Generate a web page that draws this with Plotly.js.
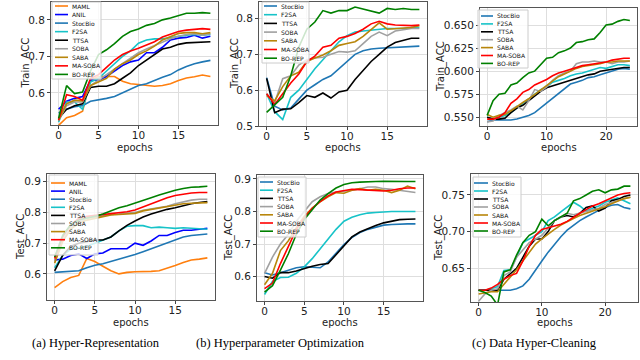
<!DOCTYPE html>
<html>
<head>
<meta charset="utf-8">
<script src="https://cdn.plot.ly/plotly-3.0.1.min.js"></script>
<style>
  html, body { margin: 0; padding: 0; background: #fff; }
  #chart { width: 640px; height: 360px; }
</style>
</head>
<body>
<div id="chart"></div>
<script>
const epochs20 = [0,1,2,3,4,5,6,7,8,9,10,11,12,13,14,15,16,17,18,19];
const epochs25 = [0,1,2,3,4,5,6,7,8,9,10,11,12,13,14,15,16,17,18,19,20,21,22,23,24];

const methodsHR = ['MAML','ANIL','StocBio','F2SA','TTSA','SOBA','SABA','MA-SOBA','BO-REP'];
const methodsBL = ['StocBio','F2SA','TTSA','SOBA','SABA','MA-SOBA','BO-REP'];

// (a) Hyper-Representation, train
const hrTrainMAML    = [0.511,0.532,0.538,0.55,0.636,0.645,0.645,0.645,0.632,0.625,0.623,0.621,0.618,0.62,0.625,0.634,0.641,0.644,0.649,0.645];
const hrTrainANIL    = [0.555,0.577,0.585,0.59,0.635,0.635,0.645,0.66,0.675,0.685,0.69,0.71,0.71,0.725,0.745,0.75,0.752,0.758,0.75,0.755];
const hrTrainStocBio = [0.545,0.555,0.562,0.565,0.577,0.58,0.585,0.59,0.6,0.608,0.62,0.625,0.635,0.643,0.65,0.663,0.672,0.68,0.685,0.689];
const hrTrainF2SA    = [0.52,0.575,0.575,0.555,0.63,0.64,0.66,0.68,0.7,0.715,0.736,0.745,0.748,0.748,0.752,0.755,0.758,0.76,0.758,0.76];
const hrTrainTTSA    = [0.53,0.555,0.565,0.57,0.615,0.618,0.618,0.625,0.64,0.655,0.675,0.69,0.705,0.72,0.725,0.733,0.737,0.738,0.74,0.74];
const hrTrainSOBA    = [0.525,0.565,0.575,0.575,0.62,0.635,0.65,0.665,0.68,0.695,0.71,0.72,0.73,0.74,0.748,0.755,0.76,0.762,0.758,0.762];
const hrTrainSABA    = [0.525,0.57,0.58,0.578,0.62,0.63,0.64,0.665,0.68,0.69,0.705,0.715,0.728,0.745,0.755,0.763,0.765,0.765,0.762,0.765];
const hrTrainMASOBA  = [0.525,0.595,0.59,0.58,0.64,0.65,0.67,0.69,0.705,0.715,0.722,0.73,0.74,0.753,0.76,0.768,0.772,0.775,0.776,0.774];
const hrTrainBOREP   = [0.53,0.62,0.598,0.602,0.66,0.705,0.718,0.735,0.755,0.768,0.775,0.785,0.79,0.8,0.805,0.812,0.818,0.818,0.82,0.818];

// (b) Hyperparameter Optimization, train
const hoTrainStocBio = [0.635,0.555,0.545,0.55,0.575,0.6,0.615,0.63,0.64,0.66,0.68,0.7,0.71,0.715,0.717,0.718,0.72,0.722,0.723,0.723];
const hoTrainF2SA    = [0.59,0.54,0.518,0.58,0.6,0.63,0.66,0.685,0.71,0.735,0.752,0.762,0.765,0.768,0.77,0.772,0.772,0.772,0.775,0.775];
const hoTrainTTSA    = [0.633,0.537,0.547,0.548,0.565,0.585,0.58,0.592,0.578,0.595,0.6,0.63,0.655,0.68,0.7,0.72,0.733,0.74,0.745,0.745];
const hoTrainSOBA    = [0.59,0.565,0.632,0.64,0.67,0.685,0.69,0.692,0.7,0.708,0.706,0.71,0.73,0.75,0.762,0.752,0.765,0.768,0.772,0.772];
const hoTrainSABA    = [0.585,0.57,0.61,0.64,0.65,0.68,0.69,0.698,0.71,0.725,0.73,0.735,0.75,0.77,0.788,0.77,0.772,0.775,0.775,0.78];
const hoTrainMASOBA  = [0.59,0.56,0.59,0.62,0.645,0.68,0.695,0.72,0.725,0.745,0.75,0.758,0.77,0.785,0.792,0.785,0.782,0.78,0.78,0.782];
const hoTrainBOREP   = [0.538,0.56,0.58,0.64,0.72,0.77,0.79,0.822,0.815,0.822,0.822,0.832,0.826,0.82,0.815,0.828,0.825,0.828,0.825,0.825];

// (c) Data Hyper-Cleaning, train
const dcTrainStocBio = [0.545,0.547,0.547,0.547,0.547,0.548,0.55,0.552,0.555,0.56,0.565,0.57,0.575,0.58,0.586,0.588,0.59,0.593,0.594,0.596,0.598,0.6,0.602,0.603,0.602];
const dcTrainF2SA    = [0.55,0.548,0.55,0.552,0.555,0.56,0.565,0.57,0.575,0.58,0.583,0.588,0.59,0.592,0.595,0.597,0.598,0.6,0.602,0.604,0.603,0.605,0.607,0.607,0.606];
const dcTrainTTSA    = [0.55,0.548,0.548,0.549,0.555,0.56,0.563,0.568,0.574,0.578,0.582,0.584,0.586,0.588,0.59,0.592,0.594,0.596,0.597,0.6,0.601,0.602,0.603,0.604,0.604];
const dcTrainSOBA    = [0.545,0.546,0.552,0.555,0.558,0.562,0.558,0.568,0.58,0.578,0.583,0.59,0.595,0.598,0.6,0.608,0.61,0.61,0.611,0.61,0.61,0.608,0.61,0.61,0.611];
const dcTrainSABA    = [0.553,0.55,0.552,0.553,0.557,0.562,0.566,0.57,0.575,0.58,0.585,0.59,0.594,0.597,0.6,0.603,0.605,0.606,0.607,0.608,0.61,0.61,0.611,0.611,0.611];
const dcTrainMASOBA  = [0.548,0.548,0.55,0.555,0.565,0.57,0.577,0.58,0.585,0.588,0.591,0.595,0.598,0.6,0.602,0.604,0.606,0.607,0.608,0.609,0.61,0.612,0.613,0.614,0.614];
const dcTrainBOREP   = [0.552,0.568,0.575,0.576,0.585,0.587,0.593,0.598,0.6,0.607,0.614,0.615,0.62,0.622,0.625,0.631,0.632,0.634,0.635,0.642,0.65,0.651,0.654,0.656,0.655];

// (a) Hyper-Representation, test
const hrTestMAML    = [0.555,0.575,0.588,0.595,0.65,0.64,0.625,0.61,0.6,0.605,0.607,0.607,0.608,0.61,0.618,0.627,0.637,0.645,0.648,0.652];
const hrTestANIL    = [0.645,0.648,0.66,0.665,0.65,0.665,0.668,0.682,0.682,0.682,0.7,0.693,0.707,0.725,0.725,0.735,0.742,0.742,0.745,0.748];
const hrTestStocBio = [0.605,0.607,0.608,0.61,0.62,0.628,0.633,0.64,0.647,0.655,0.663,0.672,0.682,0.692,0.702,0.712,0.72,0.725,0.728,0.73];
const hrTestF2SA    = [0.62,0.66,0.68,0.685,0.69,0.7,0.71,0.72,0.74,0.755,0.757,0.757,0.75,0.752,0.75,0.748,0.75,0.748,0.745,0.745];
const hrTestTTSA    = [0.61,0.66,0.69,0.7,0.705,0.71,0.71,0.72,0.74,0.758,0.772,0.785,0.795,0.803,0.81,0.815,0.822,0.828,0.832,0.835];
const hrTestSOBA    = [0.64,0.71,0.75,0.77,0.78,0.785,0.79,0.793,0.795,0.797,0.8,0.807,0.812,0.815,0.82,0.828,0.835,0.84,0.843,0.843];
const hrTestSABA    = [0.635,0.705,0.745,0.765,0.775,0.78,0.787,0.792,0.793,0.795,0.797,0.805,0.81,0.813,0.818,0.823,0.828,0.83,0.832,0.832];
const hrTestMASOBA  = [0.65,0.72,0.76,0.78,0.787,0.79,0.795,0.798,0.8,0.802,0.808,0.818,0.828,0.838,0.848,0.855,0.86,0.863,0.865,0.865];
const hrTestBOREP   = [0.655,0.725,0.76,0.775,0.782,0.787,0.795,0.805,0.815,0.822,0.83,0.84,0.848,0.857,0.865,0.872,0.878,0.882,0.883,0.885];

// (b) Hyperparameter Optimization, test
const hoTestStocBio = [0.612,0.605,0.612,0.62,0.627,0.63,0.628,0.627,0.645,0.672,0.698,0.72,0.735,0.745,0.752,0.758,0.76,0.762,0.762,0.762];
const hoTestF2SA    = [0.545,0.585,0.597,0.598,0.61,0.63,0.655,0.685,0.715,0.745,0.77,0.782,0.79,0.795,0.797,0.799,0.8,0.8,0.8,0.8];
const hoTestTTSA    = [0.6,0.595,0.612,0.612,0.617,0.625,0.632,0.637,0.64,0.667,0.695,0.722,0.737,0.748,0.757,0.765,0.77,0.775,0.776,0.777];
const hoTestSOBA    = [0.61,0.66,0.7,0.73,0.77,0.8,0.83,0.845,0.855,0.86,0.862,0.865,0.87,0.875,0.875,0.87,0.868,0.865,0.862,0.858];
const hoTestSABA    = [0.575,0.61,0.68,0.71,0.75,0.785,0.81,0.83,0.845,0.858,0.856,0.865,0.87,0.865,0.868,0.865,0.858,0.865,0.878,0.87];
const hoTestMASOBA  = [0.563,0.58,0.64,0.69,0.745,0.78,0.81,0.83,0.848,0.86,0.865,0.868,0.867,0.865,0.863,0.863,0.865,0.87,0.872,0.872];
const hoTestBOREP   = [0.552,0.572,0.62,0.67,0.73,0.775,0.805,0.835,0.855,0.872,0.883,0.888,0.89,0.892,0.892,0.893,0.892,0.892,0.892,0.892];

// (c) Data Hyper-Cleaning, test
const dcTestStocBio = [0.62,0.62,0.62,0.62,0.62,0.62,0.622,0.626,0.635,0.648,0.66,0.672,0.683,0.693,0.702,0.709,0.715,0.72,0.725,0.729,0.733,0.736,0.737,0.733,0.731];
const dcTestF2SA    = [0.62,0.62,0.622,0.625,0.647,0.648,0.665,0.685,0.69,0.695,0.7,0.715,0.72,0.727,0.733,0.74,0.735,0.728,0.732,0.735,0.74,0.743,0.746,0.742,0.738];
const dcTestTTSA    = [0.62,0.62,0.62,0.62,0.635,0.642,0.65,0.665,0.68,0.69,0.69,0.7,0.715,0.72,0.722,0.72,0.725,0.733,0.735,0.728,0.732,0.742,0.744,0.748,0.75];
const dcTestSOBA    = [0.605,0.615,0.62,0.622,0.64,0.645,0.665,0.675,0.685,0.69,0.695,0.705,0.715,0.72,0.725,0.723,0.725,0.727,0.73,0.732,0.737,0.74,0.743,0.745,0.747];
const dcTestSABA    = [0.615,0.617,0.618,0.618,0.628,0.638,0.648,0.66,0.672,0.683,0.69,0.697,0.703,0.709,0.714,0.718,0.722,0.725,0.728,0.73,0.734,0.738,0.742,0.745,0.747];
const dcTestMASOBA  = [0.62,0.62,0.623,0.628,0.635,0.64,0.643,0.66,0.68,0.695,0.703,0.705,0.708,0.71,0.714,0.72,0.725,0.73,0.735,0.738,0.742,0.747,0.75,0.752,0.753];
const dcTestBOREP   = [0.62,0.617,0.612,0.6,0.645,0.648,0.668,0.685,0.695,0.7,0.717,0.708,0.715,0.72,0.725,0.742,0.745,0.75,0.755,0.757,0.753,0.757,0.758,0.762,0.762];

const colors = {
  'MAML': '#ff7f0e', 'ANIL': '#0000ff', 'StocBio': '#1f77b4', 'F2SA': '#17c3c8',
  'TTSA': '#000000', 'SOBA': '#a0a0a0', 'SABA': '#b8860b', 'MA-SOBA': '#ff0000', 'BO-REP': '#008000'
};

// pixel helpers (figure is 640x360, no margins)
const px = v => v / 640;
const py = v => 1 - v / 360;

const panels = [
  { x: epochs20, methods: methodsHR, ytitle: 'Train_ACC', frame: [51, 218, 2, 125], yr: [0.512, 0.849], xr: [-0.95, 19.95],
    dy: 0.1, t0: 0.6, fmt: '.1f', dx: 5, titleX: 25, epochY: 147,
    series: [hrTrainMAML, hrTrainANIL, hrTrainStocBio, hrTrainF2SA, hrTrainTTSA, hrTrainSOBA, hrTrainSABA, hrTrainMASOBA, hrTrainBOREP],
    leg: { box: [52, 101, 2, 79], y0: 6, step: 8.55, line: [55, 68], tx: 71 } },
  { x: epochs20, methods: methodsBL, ytitle: 'Train_ACC', frame: [259, 427, 2, 126], yr: [0.5, 0.846], xr: [-0.95, 19.95],
    dy: 0.1, t0: 0.6, fmt: '.1f', dx: 5, titleX: 235, epochY: 147,
    series: [hoTrainStocBio, hoTrainF2SA, hoTrainTTSA, hoTrainSOBA, hoTrainSABA, hoTrainMASOBA, hoTrainBOREP],
    leg: { box: [262, 309, 2, 63], y0: 6, step: 8.7, line: [264, 277], tx: 280 } },
  { x: epochs25, methods: methodsBL, ytitle: 'Train_ACC', frame: [480, 637, 8, 126], yr: [0.5405, 0.6685], xr: [-1.2, 25.2],
    dy: 0.025, t0: 0.55, fmt: '.3f', dx: 10, titleX: 441, epochY: 147,
    series: [dcTrainStocBio, dcTrainF2SA, dcTrainTTSA, dcTrainSOBA, dcTrainSABA, dcTrainMASOBA, dcTrainBOREP],
    leg: { box: [478, 528, 10, 68], y0: 16, step: 7.9, line: [481, 493], tx: 496 } },
  { x: epochs20, methods: methodsHR, ytitle: 'Test_ACC', frame: [47, 215, 174, 300], yr: [0.515, 0.925], xr: [-0.95, 19.95],
    dy: 0.1, t0: 0.6, fmt: '.1f', dx: 5, titleX: 21, epochY: 322,
    series: [hrTestMAML, hrTestANIL, hrTestStocBio, hrTestF2SA, hrTestTTSA, hrTestSOBA, hrTestSABA, hrTestMASOBA, hrTestBOREP],
    leg: { box: [49, 98, 175, 255], y0: 183, step: 8.1, line: [51, 65], tx: 68 } },
  { x: epochs20, methods: methodsBL, ytitle: 'Test_ACC', frame: [257, 423, 175, 301], yr: [0.525, 0.912], xr: [-0.95, 19.95],
    dy: 0.1, t0: 0.6, fmt: '.1f', dx: 5, titleX: 229, epochY: 322,
    series: [hoTestStocBio, hoTestF2SA, hoTestTTSA, hoTestSOBA, hoTestSABA, hoTestMASOBA, hoTestBOREP],
    leg: { box: [258, 306, 177, 237], y0: 182, step: 8.2, line: [260, 273], tx: 276 } },
  { x: epochs25, methods: methodsBL, ytitle: 'Test_ACC', frame: [471, 638, 174, 302], yr: [0.604, 0.7786], xr: [-1.2, 25.2],
    dy: 0.05, t0: 0.65, fmt: '.2f', dx: 10, titleX: 439, epochY: 322,
    series: [dcTestStocBio, dcTestF2SA, dcTestTTSA, dcTestSOBA, dcTestSABA, dcTestMASOBA, dcTestBOREP],
    leg: { box: [473, 521, 177, 237], y0: 183, step: 8.0, line: [474, 488], tx: 491 } }
];

const tickFont = { family: 'DejaVu Sans', size: 10.5, color: '#222' };
const axisBase = {
  showline: true, mirror: true, linecolor: '#555', linewidth: 1,
  ticks: 'outside', ticklen: 3, tickcolor: '#444', tickwidth: 1,
  showgrid: true, gridcolor: '#dedede', gridwidth: 1, zeroline: false,
  tickfont: tickFont, fixedrange: true
};

const traces = [];
const shapes = [];
const annotations = [];
const layout = {
  width: 640, height: 360,
  margin: { l: 0, r: 0, t: 0, b: 0 },
  paper_bgcolor: '#fff', plot_bgcolor: '#fff',
  showlegend: false
};

function label(text, x, y, font, extra) {
  return Object.assign({
    text: text, xref: 'paper', yref: 'paper', x: x, y: y,
    xanchor: 'center', yanchor: 'middle', showarrow: false, font: font, borderpad: 0
  }, extra || {});
}

panels.forEach((p, i) => {
  const s = i === 0 ? '' : String(i + 1);
  const [fx0, fx1, fy0, fy1] = p.frame;
  layout['xaxis' + s] = Object.assign({}, axisBase, {
    domain: [px(fx0), px(fx1)], range: p.xr, anchor: 'y' + s,
    tickmode: 'linear', tick0: 0, dtick: p.dx, ticklabelstandoff: -3
  });
  layout['yaxis' + s] = Object.assign({}, axisBase, {
    domain: [py(fy1), py(fy0)], range: p.yr, anchor: 'x' + s,
    tickmode: 'linear', tick0: p.t0, dtick: p.dy, tickformat: p.fmt
  });

  p.methods.forEach((m, k) => {
    traces.push({
      type: 'scatter', mode: 'lines', name: m,
      x: p.x, y: p.series[k],
      xaxis: 'x' + s, yaxis: 'y' + s,
      line: { color: colors[m], width: 1.6 },
      hoverinfo: 'skip'
    });
  });

  // axis titles
  const titleFont = { family: 'DejaVu Sans', size: 10, color: '#222' };
  annotations.push(label('epochs', px((fx0 + fx1) / 2), py(p.epochY), titleFont));
  annotations.push(label(p.ytitle, px(p.titleX), py((fy0 + fy1) / 2), titleFont, { textangle: -90 }));

  // legend box drawn by hand (matplotlib style)
  const L = p.leg;
  shapes.push({
    type: 'rect', xref: 'paper', yref: 'paper',
    x0: px(L.box[0]), x1: px(L.box[1]), y0: py(L.box[3]), y1: py(L.box[2]),
    fillcolor: 'rgba(255,255,255,0.8)', line: { color: '#cccccc', width: 1 }
  });
  p.methods.forEach((m, k) => {
    const yy = L.y0 + k * L.step;
    shapes.push({
      type: 'line', xref: 'paper', yref: 'paper',
      x0: px(L.line[0]), x1: px(L.line[1]), y0: py(yy), y1: py(yy),
      line: { color: colors[m], width: 1.6 }
    });
    annotations.push(label(m, px(L.tx), py(yy),
      { family: 'DejaVu Sans', size: 6, color: '#111' }, { xanchor: 'left' }));
  });
});

// sub-figure captions
const captions = ['(a) Hyper-Representation', '(b) Hyperparameter Optimization', '(c) Data Hyper-Cleaning'];
const captionX = [96, 280, 534];
captions.forEach((c, i) => {
  annotations.push(label(c, px(captionX[i]), py(343),
    { family: 'Liberation Serif', size: 12.5, color: '#000' }));
});

layout.shapes = shapes;
layout.annotations = annotations;

Plotly.newPlot('chart', traces, layout, { staticPlot: true });
</script>
</body>
</html>
